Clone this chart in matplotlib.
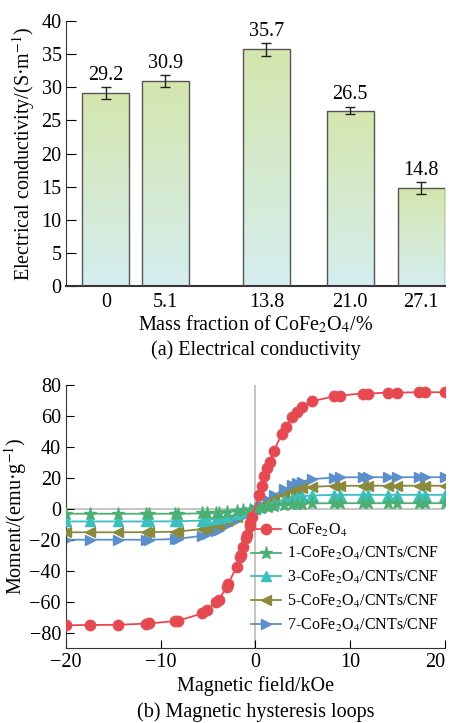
import numpy as np
import matplotlib.pyplot as plt
from matplotlib.colors import LinearSegmentedColormap

plt.rcParams['font.family'] = ['Liberation Serif', 'DejaVu Serif']
plt.rcParams['mathtext.fontset'] = 'stix'
plt.rcParams['axes.unicode_minus'] = True

# (a) conductivity data
mass_fraction = [0, 5.1, 13.8, 21.0, 27.1]
tick_labels = ['0', '5.1', '13.8', '21.0', '27.1']
conductivity = [29.2, 30.9, 35.7, 26.5, 14.8]
cond_err = [0.9, 0.9, 1.0, 0.6, 0.9]

# (b) hysteresis data
field_red = [-20, -17.5, -14.5, -11.5, -11.2, -8.5, -8.2, -5.6, -5.1, -4.2, -3.9, -3.0, -2.85,
             -2.0, -1.6, -1.5, -1.27, -1.0, -0.9, -0.63, -0.56, -0.4, 0.42, 0.67, 0.9, 1.2, 1.5,
             1.9, 2.8, 3.2, 3.9, 4.4, 4.9, 6.0, 8.3, 8.9, 11.3, 11.9, 14.0, 14.9, 17.2, 17.9, 20]
moment_red = [-75.3, -75.1, -75.0, -74.2, -74.1, -72.6, -72.4, -67.6, -65.5, -60.3, -59.0, -50.4, -48.3,
              -37.5, -31.0, -29.6, -24.7, -18.9, -17.2, -11.4, -9.2, -5.5, 9.0, 15.0, 21.2, 26.2, 30.5,
              37.3, 48.3, 53.0, 59.4, 62.7, 65.9, 69.5, 72.7, 73.2, 74.5, 74.5, 75.1, 75.1, 75.3, 75.3, 75.3]

field_comp = [-20, -17.5, -14.5, -11.5, -11.2, -8.5, -8.2, -5.6, -5.1, -4.2, -3.9, -3.0, -2.0, -1.3,
              -0.6, 0, 0.6, 1.3, 2.0, 3.0, 3.9, 4.4, 4.9, 6.0, 8.3, 8.9, 11.3, 11.9, 14.0, 14.9, 17.2, 17.9, 20]
moment_1 = [-3.2, -3.2, -3.2, -3.2, -3.2, -3.2, -3.2, -3.0, -2.9, -2.6, -2.5, -2.1, -1.6, -1.0,
            -0.5, 0, 0.6, 1.2, 1.9, 2.6, 3.0, 3.2, 3.3, 3.5, 3.6, 3.6, 3.6, 3.6, 3.6, 3.6, 3.6, 3.6, 3.6]
moment_3 = [-8.2, -8.2, -8.2, -8.2, -8.2, -8.1, -8.1, -7.6, -7.3, -6.5, -6.1, -5.0, -3.5, -2.2,
            -1.0, 0, 1.2, 2.5, 4.0, 5.8, 7.0, 7.6, 8.1, 8.6, 9.0, 9.0, 9.0, 9.0, 9.0, 9.0, 9.0, 9.0, 9.0]
moment_5 = [-15.2, -15.2, -15.2, -15.1, -15.1, -14.8, -14.7, -13.1, -12.3, -10.5, -9.8, -7.8, -5.3, -3.4,
            -1.6, 0, 1.8, 4.0, 6.3, 9.2, 11.2, 12.3, 13.2, 14.2, 14.8, 14.8, 14.9, 14.9, 14.9, 14.9, 14.9, 14.9, 14.9]
moment_7 = [-20.0, -20.0, -20.0, -20.0, -20.0, -19.6, -19.4, -17.5, -16.4, -14.3, -13.4, -10.8, -7.5, -4.8,
            -2.2, 0, 2.6, 5.6, 8.8, 12.6, 15.2, 16.5, 17.6, 19.2, 20.2, 20.3, 20.4, 20.4, 20.4, 20.4, 20.4, 20.4, 20.4]

fs = 14.5

fig = plt.figure(figsize=(4.51, 7.23), dpi=100)

# ---------- (a) ----------
ax1 = fig.add_axes([0.146, 0.604, 0.841, 0.367])
bar_w = 4.05
bars = ax1.bar(mass_fraction, conductivity, width=bar_w, facecolor='none',
               edgecolor='#555555', linewidth=1.0, zorder=3)
cmap = LinearSegmentedColormap.from_list('g', ['#d6eef0', '#d4e6ad'])
grad = np.linspace(0, 1, 256).reshape(-1, 1)
for b in bars:
    x0 = b.get_x()
    im = ax1.imshow(grad, cmap=cmap, origin='lower', aspect='auto',
                    extent=[x0, x0 + b.get_width(), 0, b.get_height()], zorder=2)
    im.set_clip_path(b)
ax1.errorbar(mass_fraction, conductivity, yerr=cond_err, fmt='none', ecolor='#222222',
             elinewidth=1.0, capsize=3.5, capthick=1.0, zorder=4)
for x, v, e in zip(mass_fraction, conductivity, cond_err):
    ax1.annotate(f'{v:.1f}', (x, v + e), xytext=(0, 1.5), textcoords='offset points',
                 ha='center', va='bottom', fontsize=fs)
ax1.set_xlim(-3.44, 29.15)
ax1.set_ylim(0, 40)
ax1.set_yticks(range(0, 41, 5))
ax1.set_xticks(mass_fraction)
ax1.set_xticklabels(tick_labels)
ax1.tick_params(axis='y', direction='in', length=7, labelsize=fs, pad=3)
ax1.tick_params(axis='x', length=0, labelsize=fs, pad=5)
for s in ['top', 'right']:
    ax1.spines[s].set_visible(False)
ax1.spines['left'].set_color('#333333')
ax1.spines['bottom'].set_linewidth(1.5)
ax1.spines['bottom'].set_color('#333333')
ax1.set_ylabel('Electrical conductivity/(S·m$^{-1}$)', fontsize=fs, labelpad=3)
ax1.set_xlabel('Mass fraction of CoFe$_2$O$_4$/%', fontsize=fs, labelpad=1)
ax1.text(0.5, -0.24, '(a) Electrical conductivity', transform=ax1.transAxes,
         ha='center', va='center', fontsize=fs)

# ---------- (b) ----------
ax2 = fig.add_axes([0.146, 0.1037, 0.841, 0.3638])
ax2.axhline(0, color='#bbbbbb', lw=1.2, zorder=1)
ax2.axvline(0, color='#bbbbbb', lw=1.2, zorder=1)
ms = 7.5
ax2.plot(field_red, moment_red, '-o', color='#e8474f', mfc='#e8474f', mec='#e05058',
         ms=ms, lw=1.3, label='CoFe$_2$O$_4$', zorder=6)
ax2.plot(field_comp, moment_1, '-*', color='#4caf73', ms=ms + 2, lw=1.3,
         label='1-CoFe$_2$O$_4$/CNTs/CNF', zorder=5)
ax2.plot(field_comp, moment_3, '-^', color='#3cbfbf', ms=ms, lw=1.3,
         label='3-CoFe$_2$O$_4$/CNTs/CNF', zorder=4)
ax2.plot(field_comp, moment_5, '-<', color='#8a8a3c', ms=ms, lw=1.3,
         label='5-CoFe$_2$O$_4$/CNTs/CNF', zorder=3)
ax2.plot(field_comp, moment_7, '->', color='#5b8fc9', ms=ms, lw=1.3,
         label='7-CoFe$_2$O$_4$/CNTs/CNF', zorder=2)
ax2.set_xlim(-20, 20)
ax2.set_ylim(-90, 80)
ax2.set_xticks(range(-20, 21, 10))
ax2.set_yticks(range(-80, 81, 20))
ax2.tick_params(direction='in', length=6, labelsize=fs)
ax2.get_xticklabels()[-1].set_horizontalalignment('right')
for s in ['top', 'right']:
    ax2.spines[s].set_visible(False)
ax2.spines['left'].set_color('#333333')
ax2.spines['bottom'].set_color('#333333')
ax2.set_xlabel('Magnetic field/kOe', fontsize=fs, labelpad=3)
ax2.set_ylabel('Moment/(emu·g$^{-1}$)', fontsize=fs, labelpad=0)
ax2.legend(loc='lower right', frameon=False, fontsize=11.5, handlelength=1.9,
           handletextpad=0.35, labelspacing=0.42, borderaxespad=0.0,
           bbox_to_anchor=(1.0, 0.03))
ax2.text(0.5, -0.245, '(b) Magnetic hysteresis loops', transform=ax2.transAxes,
         ha='center', va='center', fontsize=fs)

fig.savefig('out.png', dpi=100)
